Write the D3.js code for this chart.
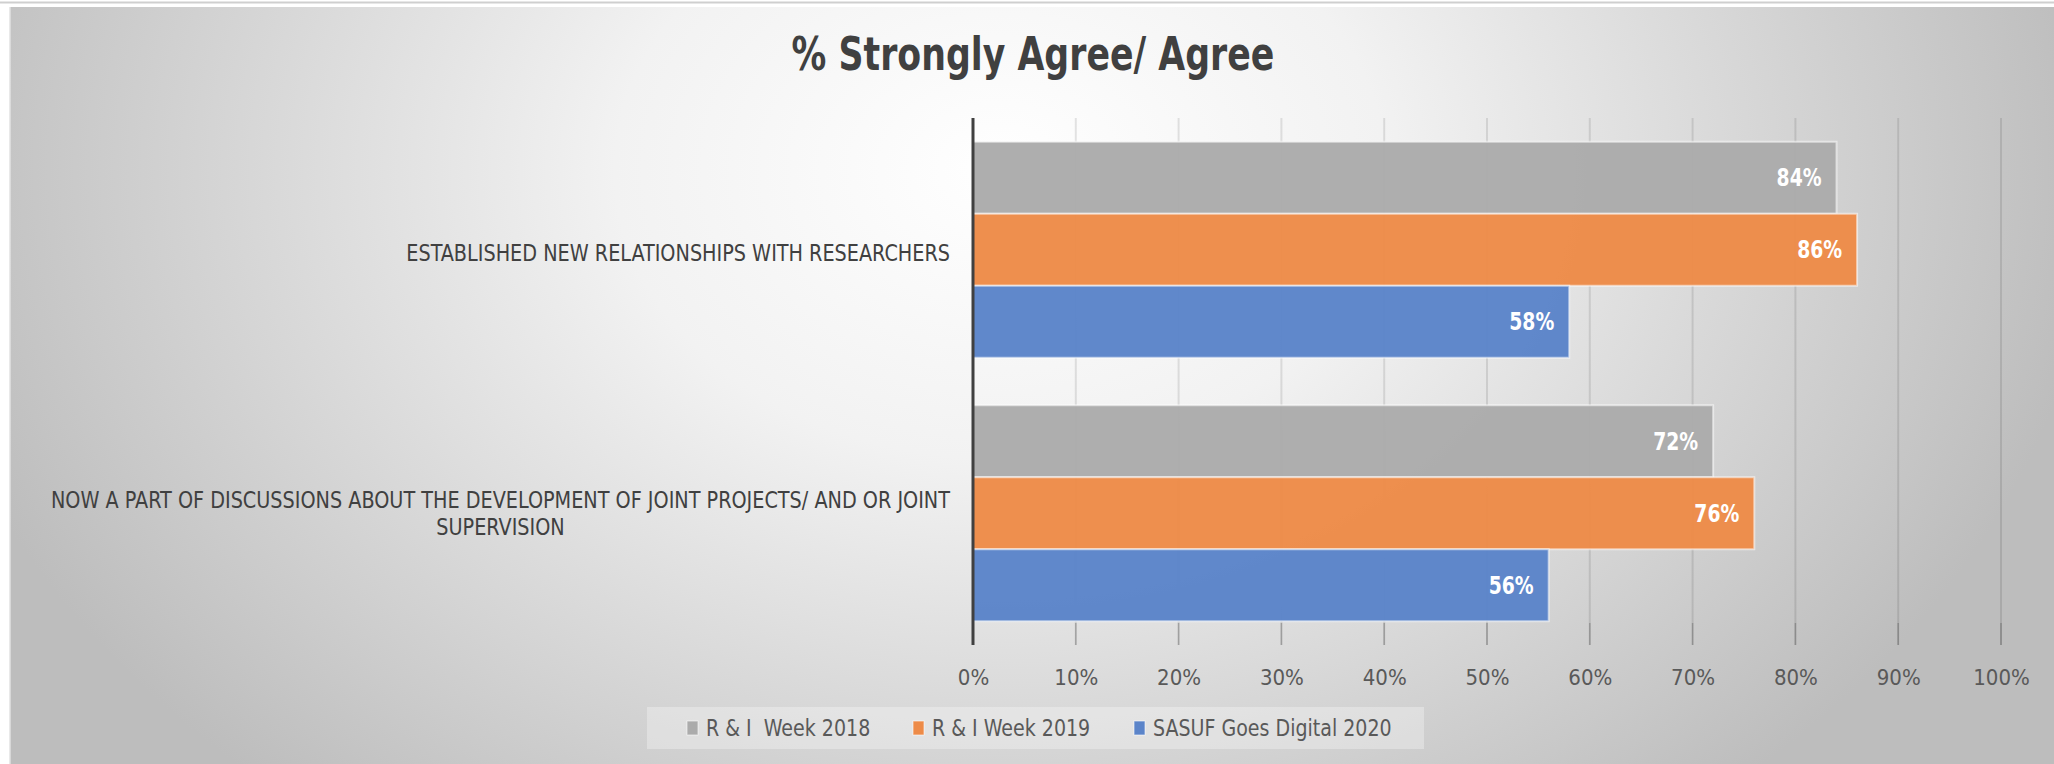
<!DOCTYPE html>
<html><head><meta charset="utf-8">
<script src="https://cdn.jsdelivr.net/npm/d3@7/dist/d3.min.js"></script>
<style>
html,body{margin:0;padding:0;background:#fff;overflow:hidden;}
svg{display:block;}
</style></head>
<body>
<svg id="c" width="2054" height="764"></svg>
<script>
const categories = ["ESTABLISHED NEW RELATIONSHIPS WITH RESEARCHERS",
  "NOW A PART OF DISCUSSIONS ABOUT THE DEVELOPMENT OF JOINT PROJECTS/ AND OR JOINT SUPERVISION"];
const categoryLines = [["ESTABLISHED NEW RELATIONSHIPS WITH RESEARCHERS"],
  ["NOW A PART OF DISCUSSIONS ABOUT THE DEVELOPMENT OF JOINT PROJECTS/ AND OR JOINT", "SUPERVISION"]];
const seriesNames = ["R & I  Week 2018", "R & I Week 2019", "SASUF Goes Digital 2020"];
const week2018 = [84, 72];
const week2019 = [86, 76];
const digital2020 = [58, 56];
const seriesValues = [week2018, week2019, digital2020];
const seriesColors = ["#ababab", "#ed8b48", "#5b84c9"];
const tickValues = [0,10,20,30,40,50,60,70,80,90,100];
const titleText = "% Strongly Agree/ Agree";

const FONT = "'Liberation Sans Narrow','DejaVu Sans Condensed','Liberation Sans',sans-serif";
const svg = d3.select("#c");
const defs = svg.append("defs");

// background
const rg = defs.append("radialGradient").attr("id","bg")
  .attr("gradientUnits","userSpaceOnUse").attr("cx",1000).attr("cy",170).attr("r",1100)
  .attr("gradientTransform","translate(1000,170) scale(1,0.75) translate(-1000,-170)");
rg.append("stop").attr("offset","0").attr("stop-color","#ffffff");
rg.append("stop").attr("offset","0.35").attr("stop-color","#f2f2f2");
rg.append("stop").attr("offset","1").attr("stop-color","#bdbdbd");

svg.append("line").attr("x1",0).attr("x2",2054).attr("y1",2.5).attr("y2",2.5).attr("stroke","#cfcfcf").attr("stroke-width",2);
svg.append("rect").attr("x",10).attr("y",7).attr("width",2044).attr("height",757).attr("fill","url(#bg)");
svg.append("line").attr("x1",10).attr("x2",10).attr("y1",7).attr("y2",764).attr("stroke","#e2e2e2").attr("stroke-width",1.5);

// title (condensed)
svg.append("g").attr("transform","translate(1033,70) scale(0.84,1)")
  .append("text").attr("x",0).attr("y",0).attr("text-anchor","middle")
  .attr("font-family",FONT).attr("font-weight","bold").attr("font-size",46).attr("fill","#404040")
  .text(titleText);

const plot = {left:973, right:2001, top:118, bottom:645};
const x = d3.scaleLinear().domain([0,100]).range([plot.left, plot.right]);
const y0 = d3.scaleBand().domain(categories).range([plot.top, plot.bottom]);
const y1 = d3.scaleBand().domain(seriesNames).range([0, y0.bandwidth()]).paddingOuter(0.33).paddingInner(0);

// gridlines
svg.append("g").selectAll("line").data(tickValues.slice(1)).join("line")
  .attr("x1",d=>x(d)).attr("x2",d=>x(d)).attr("y1",plot.top).attr("y2",plot.bottom)
  .attr("stroke","#000").attr("stroke-opacity",0.1).attr("stroke-width",2);
svg.append("g").selectAll("line").data(tickValues.slice(1)).join("line")
  .attr("x1",d=>x(d)).attr("x2",d=>x(d)).attr("y1",plot.bottom-22).attr("y2",plot.bottom)
  .attr("stroke","#000").attr("stroke-opacity",0.2).attr("stroke-width",1.5);

// bars
const groups = svg.append("g").selectAll("g").data(categories).join("g")
  .attr("transform",d=>`translate(0,${y0(d)})`);
groups.each(function(cat, ci){
  const g = d3.select(this);
  seriesNames.forEach((s, si)=>{
    const v = seriesValues[si][ci];
    g.append("rect").attr("x",x(0)).attr("y",y1(s)).attr("width",x(v)-x(0)).attr("height",y1.bandwidth())
      .attr("fill",seriesColors[si]).attr("fill-opacity",0.97)
      .attr("stroke","#ffffff").attr("stroke-opacity",0.55).attr("stroke-width",2);
    g.append("g").attr("transform",`translate(${x(v)-15},${y1(s)+y1.bandwidth()/2}) scale(0.87,1)`)
      .append("text").attr("dy","0.36em")
      .attr("text-anchor","end").attr("font-family",FONT).attr("font-weight","bold")
      .attr("font-size",24).attr("fill","#ffffff").text(v+"%");
  });
});

// axis line
svg.append("line").attr("x1",x(0)).attr("x2",x(0)).attr("y1",plot.top).attr("y2",plot.bottom)
  .attr("stroke","#404040").attr("stroke-width",3);

// x axis labels
const xAxis = d3.axisBottom(x).tickValues(tickValues).tickFormat(d=>d+"%").tickSize(0).tickPadding(0);
const ax = svg.append("g").attr("transform",`translate(0,${plot.bottom})`).call(xAxis);
ax.select(".domain").remove();
ax.selectAll("text").attr("font-family",FONT).attr("font-size",22).attr("fill","#595959")
  .attr("y",32).attr("dy","0.35em");

// category labels (condensed, lines centred within right-aligned block)
const lblRight = 950, lineH = 27, sx = 0.93;
categories.forEach((cat, ci)=>{
  const lines = categoryLines[ci];
  const cy = y0(cat) + y0.bandwidth()/2 + (lines.length===1 ? 3 : 0);
  const g = svg.append("g").attr("transform",`translate(${lblRight},0) scale(${sx},1)`);
  const t = g.append("text").attr("font-family",FONT).attr("font-size",23).attr("fill","#404040");
  const tmp = t.append("tspan").text(lines.reduce((a,b)=>a.length>b.length?a:b));
  const w = tmp.node().getComputedTextLength();
  tmp.remove();
  lines.forEach((ln, li)=>{
    t.append("tspan").attr("x",-w/2).attr("text-anchor","middle")
      .attr("y", cy + (li - (lines.length-1)/2)*lineH).attr("dy","0.35em").text(ln);
  });
});

// legend
const lg = svg.append("g");
lg.append("rect").attr("x",647).attr("y",707).attr("width",777).attr("height",42)
  .attr("fill","#ffffff").attr("fill-opacity",0.3);
const legX = [687, 913, 1134];
seriesNames.forEach((s, si)=>{
  lg.append("rect").attr("x",legX[si]).attr("y",721).attr("width",11).attr("height",14)
    .attr("fill",seriesColors[si]).attr("stroke","#fff").attr("stroke-opacity",0.6).attr("stroke-width",1);
  lg.append("g").attr("transform",`translate(${legX[si]+19},728) scale(0.92,1)`)
    .append("text").attr("dy","0.35em")
    .attr("font-family",FONT).attr("font-size",23).attr("fill","#595959")
    .style("white-space","pre").text(s);
});
</script>
</body></html>
